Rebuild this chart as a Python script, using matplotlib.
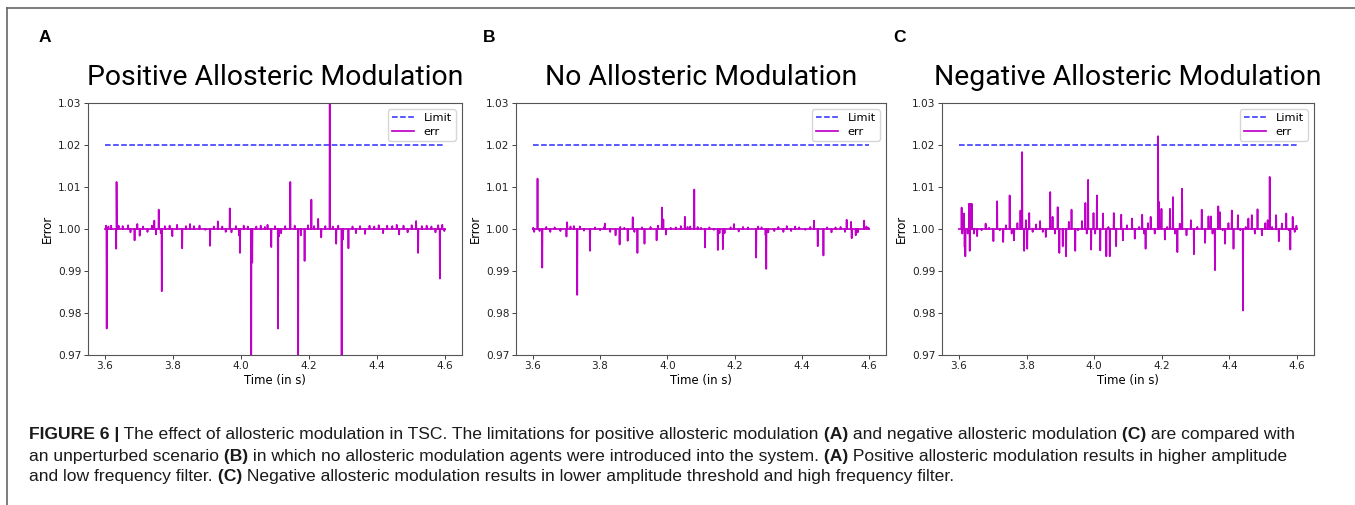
import numpy as np
import matplotlib
matplotlib.use('Agg')
import matplotlib.pyplot as plt
from matplotlib.lines import Line2D

# --- Data ---
T_START, T_END = 3.6, 4.6
LIMIT = 1.02

titles = ['Positive Allosteric Modulation', 'No Allosteric Modulation', 'Negative Allosteric Modulation']
panel_letters = ['A', 'B', 'C']

# panel A: spike times (s) and error values
a_t = [3.603, 3.605, 3.610, 3.618, 3.633, 3.634, 3.640, 3.652, 3.668, 3.675, 3.687, 3.695,
       3.702, 3.712, 3.725, 3.738, 3.745, 3.750, 3.758, 3.764, 3.767, 3.776, 3.790, 3.798,
       3.812, 3.827, 3.838, 3.850, 3.862, 3.878, 3.895, 3.909, 3.920, 3.932, 3.945, 3.955,
       3.967, 3.972, 3.985, 3.994, 3.997, 4.008, 4.020, 4.030, 4.033, 4.045, 4.058, 4.070,
       4.078, 4.089, 4.100, 4.109, 4.112, 4.118, 4.130, 4.145, 4.158, 4.168, 4.176, 4.187,
       4.197, 4.207, 4.215, 4.227, 4.236, 4.248, 4.261, 4.270, 4.280, 4.286, 4.296, 4.300,
       4.316, 4.328, 4.338, 4.350, 4.365, 4.378, 4.392, 4.405, 4.418, 4.430, 4.445, 4.458,
       4.465, 4.478, 4.490, 4.502, 4.515, 4.521, 4.532, 4.546, 4.560, 4.572, 4.580, 4.585,
       4.592, 4.598]
a_v = [1.0008, 0.9763, 1.0006, 1.0008, 0.9953, 1.0112, 1.0008, 1.0007, 1.0009, 0.9992, 0.9973, 1.0012,
       0.9984, 1.0006, 0.9993, 1.0008, 1.0020, 0.9987, 1.0046, 0.9990, 0.9852, 1.0007, 1.0008, 0.9983,
       1.0010, 0.9954, 1.0007, 1.0012, 1.0007, 1.0008, 0.9998, 0.9960, 1.0006, 1.0018, 1.0006, 0.9993,
       1.0049, 0.9992, 1.0007, 0.9985, 0.9943, 1.0008, 1.0006, 0.9600, 0.9920, 1.0006, 1.0008, 1.0005,
       1.0010, 0.9957, 1.0007, 0.9763, 0.9983, 0.9990, 1.0007, 1.0112, 1.0008, 0.9600, 0.9985, 0.9924,
       1.0009, 1.0070, 1.0007, 1.0024, 0.9980, 1.0007, 1.0400, 1.0006, 0.9965, 1.0008, 0.9600, 0.9975,
       0.9954, 1.0006, 0.9990, 1.0007, 0.9988, 1.0008, 1.0006, 1.0009, 0.9990, 1.0008, 1.0007, 1.0010,
       0.9987, 1.0008, 0.9992, 1.0009, 1.0019, 0.9943, 1.0007, 1.0008, 1.0006, 0.9992, 1.0009, 0.9882,
       1.0010, 0.9995]

# panel B
b_t = [3.601, 3.604, 3.614, 3.620, 3.628, 3.640, 3.652, 3.665, 3.682, 3.700, 3.702, 3.712,
       3.722, 3.732, 3.740, 3.752, 3.770, 3.785, 3.800, 3.812, 3.814, 3.830, 3.846, 3.858,
       3.860, 3.872, 3.882, 3.897, 3.902, 3.911, 3.925, 3.932, 3.950, 3.968, 3.972, 3.984,
       3.988, 3.996, 4.010, 4.025, 4.040, 4.052, 4.060, 4.068, 4.080, 4.090, 4.100, 4.112,
       4.125, 4.138, 4.150, 4.155, 4.165, 4.170, 4.188, 4.198, 4.212, 4.225, 4.240, 4.264,
       4.270, 4.280, 4.292, 4.294, 4.300, 4.318, 4.330, 4.345, 4.355, 4.368, 4.380, 4.392,
       4.410, 4.425, 4.436, 4.447, 4.464, 4.475, 4.488, 4.500, 4.515, 4.528, 4.533, 4.546,
       4.548, 4.560, 4.566, 4.585, 4.592, 4.598]
b_v = [1.0003, 0.9993, 1.0120, 0.9995, 0.9908, 1.0005, 0.9993, 1.0004, 0.9995, 0.9982, 1.0016, 1.0006,
       1.0007, 0.9843, 1.0006, 0.9996, 0.9948, 1.0004, 0.9997, 1.0004, 1.0013, 0.9993, 0.9985, 0.9963,
       1.0005, 1.0003, 0.9972, 1.0028, 0.9993, 0.9943, 1.0004, 0.9965, 1.0005, 0.9973, 1.0008, 1.0051,
       1.0023, 0.9987, 1.0003, 1.0004, 1.0007, 1.0029, 1.0005, 1.0006, 1.0094, 1.0005, 1.0003, 0.9956,
       1.0004, 0.9998, 0.9950, 0.9990, 0.9952, 0.9990, 1.0004, 1.0012, 0.9994, 1.0005, 1.0004, 0.9932,
       1.0006, 1.0004, 0.9985, 0.9905, 0.9992, 0.9995, 1.0005, 0.9993, 1.0007, 0.9995, 1.0006, 1.0004,
       0.9998, 1.0005, 1.0020, 0.9959, 0.9937, 1.0004, 0.9992, 1.0004, 1.0005, 0.9993, 1.0022, 1.0017,
       0.9978, 0.9985, 0.9992, 1.0020, 1.0006, 1.0003]

# panel C
c_t = [3.608, 3.610, 3.615, 3.617, 3.619, 3.626, 3.630, 3.632, 3.635, 3.638, 3.645, 3.654,
       3.667, 3.679, 3.689, 3.702, 3.713, 3.721, 3.731, 3.739, 3.750, 3.756, 3.763, 3.773,
       3.782, 3.787, 3.793, 3.798, 3.802, 3.808, 3.818, 3.828, 3.840, 3.848, 3.857, 3.870,
       3.877, 3.884, 3.892, 3.897, 3.907, 3.917, 3.925, 3.933, 3.944, 3.952, 3.964, 3.974,
       3.978, 3.982, 3.991, 3.998, 4.003, 4.008, 4.018, 4.026, 4.036, 4.042, 4.046, 4.058,
       4.065, 4.080, 4.085, 4.097, 4.112, 4.120, 4.133, 4.142, 4.148, 4.152, 4.159, 4.167,
       4.179, 4.189, 4.192, 4.199, 4.209, 4.216, 4.224, 4.233, 4.239, 4.246, 4.253, 4.260,
       4.273, 4.286, 4.295, 4.305, 4.318, 4.328, 4.338, 4.345, 4.350, 4.357, 4.367, 4.372,
       4.380, 4.387, 4.397, 4.407, 4.412, 4.425, 4.432, 4.440, 4.448, 4.456, 4.466, 4.475,
       4.483, 4.496, 4.506, 4.513, 4.519, 4.526, 4.538, 4.546, 4.555, 4.568, 4.575, 4.580,
       4.587, 4.593, 4.598]
c_v = [1.0051, 0.9989, 1.0037, 0.9957, 0.9935, 0.9989, 1.0060, 0.9948, 1.0060, 1.0060, 0.9989, 0.9983,
       0.9997, 1.0013, 1.0003, 0.9971, 1.0066, 0.9997, 0.9969, 1.0009, 1.0080, 0.9989, 0.9973, 1.0014,
       1.0044, 1.0183, 0.9948, 1.0021, 0.9953, 1.0038, 0.9993, 1.0011, 1.0019, 0.9993, 0.9981, 1.0088,
       1.0029, 0.9989, 1.0052, 0.9943, 0.9959, 0.9935, 1.0017, 1.0046, 0.9948, 0.9997, 1.0019, 1.0062,
       0.9989, 1.0117, 0.9951, 1.0038, 0.9989, 1.0080, 0.9949, 1.0037, 0.9935, 1.0005, 0.9935, 1.0038,
       0.9959, 1.0034, 0.9973, 1.0009, 1.0025, 0.9977, 1.0005, 1.0034, 0.9989, 0.9953, 1.0014, 1.0029,
       0.9989, 1.0221, 1.0064, 1.0048, 0.9975, 1.0005, 1.0048, 1.0076, 0.9989, 0.9945, 1.0013, 1.0096,
       0.9985, 1.0021, 0.9940, 1.0005, 1.0046, 0.9967, 1.0030, 1.0030, 0.9989, 0.9902, 1.0054, 1.0040,
       0.9997, 0.9965, 1.0014, 1.0044, 0.9953, 1.0033, 0.9997, 0.9806, 1.0005, 1.0025, 1.0033, 0.9989,
       1.0047, 0.9985, 1.0014, 1.0021, 1.0124, 1.0005, 1.0033, 0.9971, 1.0013, 1.0037, 0.9997, 0.9951,
       1.0029, 0.9993, 1.0008]

series = [(a_t, a_v), (b_t, b_v), (c_t, c_v)]

caption_lines = [
    [('FIGURE 6 |', 'bold'), (' The effect of allosteric modulation in TSC. The limitations for positive allosteric modulation', 'normal'),
     (' (A)', 'bold'), (' and negative allosteric modulation', 'normal'), (' (C)', 'bold'), (' are compared with', 'normal')],
    [('an unperturbed scenario', 'normal'), (' (B)', 'bold'),
     (' in which no allosteric modulation agents were introduced into the system.', 'normal'), (' (A)', 'bold'),
     (' Positive allosteric modulation results in higher amplitude', 'normal')],
    [('and low frequency filter.', 'normal'), (' (C)', 'bold'),
     (' Negative allosteric modulation results in lower amplitude threshold and high frequency filter.', 'normal')],
]


def spike_line(ts, vs, hw=0.0008):
    # each sample is a single-step spike off the 1.0 baseline
    pts = [(T_START, 1.0), (T_END, 1.0)]
    for t, v in zip(ts, vs):
        pts += [(t - hw, 1.0), (t, v), (t + hw, 1.0)]
    pts.sort()
    x, y = zip(*pts)
    return np.array(x), np.array(y)


plt.rcParams['font.family'] = 'DejaVu Sans'
fig = plt.figure(figsize=(13.55, 5.05), dpi=100)

lefts = [88, 516, 942]
rights = [462, 886, 1314]
letter_x = [39, 483, 893]
W, H = 1355, 505

for i in range(3):
    ax = fig.add_axes([lefts[i] / W, (H - 355) / H, (rights[i] - lefts[i]) / W, 252 / H])
    ax.plot([T_START, T_END], [LIMIT, LIMIT], '--', color='#2b2bff', lw=1.1, label='Limit')
    x, y = spike_line(*series[i])
    ax.plot(x, y, color='#c000c8', lw=1.25, label='err')
    ax.set_ylim(0.97, 1.03)
    ax.set_xlim(3.55, 4.65)
    ax.set_xticks([3.6, 3.8, 4.0, 4.2, 4.4, 4.6])
    ax.set_yticks([0.97, 0.98, 0.99, 1.00, 1.01, 1.02, 1.03])
    ax.yaxis.set_major_formatter(plt.FormatStrFormatter('%.2f'))
    ax.tick_params(labelsize=7.6, length=2.6, width=0.6, pad=2, colors='#222222')
    for s in ax.spines.values():
        s.set_color('#555555')
        s.set_linewidth(0.8)
    ax.set_xlabel('Time (in s)', fontsize=8.4, labelpad=2)
    ax.set_ylabel('Error', fontsize=8.4, labelpad=3)
    ax.legend(loc='upper right', fontsize=8.2, handlelength=2.0, borderpad=0.35,
              labelspacing=0.3, borderaxespad=0.55)
    ax.set_title(titles[i], fontsize=20.4, family='Roboto', pad=13)
    fig.text(letter_x[i] / W, 1 - 38 / H, panel_letters[i], fontsize=12.5, fontweight='bold',
             family='Liberation Sans', va='center', ha='left')

# caption with mixed bold runs
renderer = fig.canvas.get_renderer()
line_y = [435, 456, 477]
for segs, yy in zip(caption_lines, line_y):
    xpix = 29
    for txt, wgt in segs:
        t = fig.text(xpix / W, 1 - yy / H, txt, fontsize=12.6, family='Liberation Sans', fontweight=wgt,
                     va='center', ha='left', color='#1a1a1a')
        bb = t.get_window_extent(renderer)
        xpix += bb.width

# frame lines round the figure
fig.add_artist(Line2D([7 / W, 1], [1 - 8 / H, 1 - 8 / H], color='#666666', lw=1.2))
fig.add_artist(Line2D([7 / W, 7 / W], [0, 1 - 8 / H], color='#666666', lw=1.2))

fig.savefig('out.png', dpi=100)
